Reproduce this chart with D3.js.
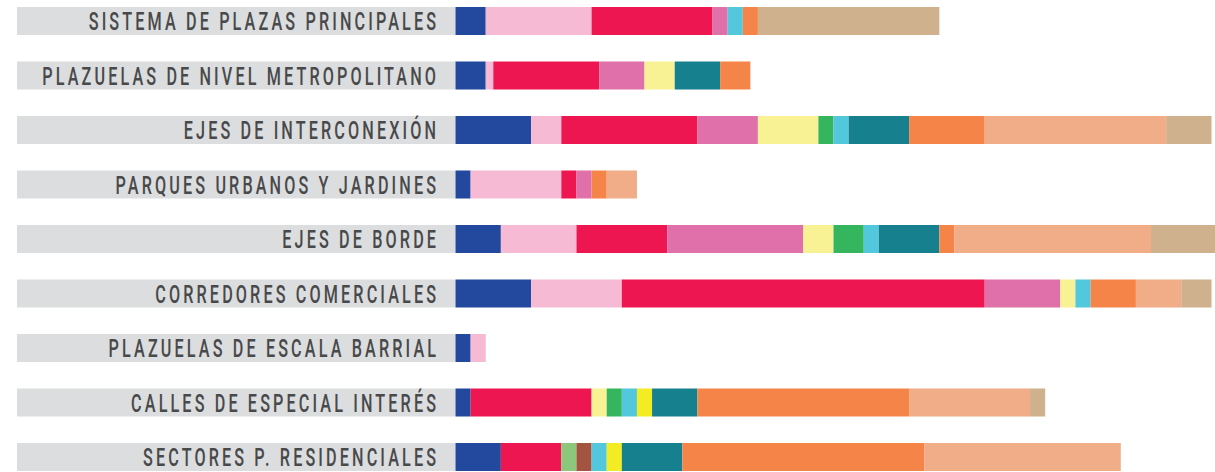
<!DOCTYPE html>
<html>
<head>
<meta charset="utf-8">
<script src="https://cdn.jsdelivr.net/npm/d3@7"></script>
<style>
  html, body { margin: 0; padding: 0; background: #ffffff; overflow: hidden; }
  svg { display: block; }
</style>
</head>
<body>
<div id="chart"></div>
<script>
const categories = [
  "SISTEMA DE PLAZAS PRINCIPALES",
  "PLAZUELAS DE NIVEL METROPOLITANO",
  "EJES DE INTERCONEXIÓN",
  "PARQUES URBANOS Y JARDINES",
  "EJES DE BORDE",
  "CORREDORES COMERCIALES",
  "PLAZUELAS DE ESCALA BARRIAL",
  "CALLES DE ESPECIAL INTERÉS",
  "SECTORES P. RESIDENCIALES"
];

const seriesNames = ["s01","s02","s03","s04","s05","s06","s07","s08","s09","s10","s11","s12","s13","s14"];

const s01 = [2, 2, 5, 1, 3, 5, 1, 1, 3];
const s02 = [7, 0.5, 2, 6, 5, 6, 1, 0, 0];
const s03 = [8, 7, 9, 1, 6, 24, 0, 8, 4];
const s04 = [1, 3, 4, 1, 9, 5, 0, 0, 0];
const s05 = [0, 2, 4, 0, 2, 1, 0, 1, 0];
const s06 = [0, 0, 1, 0, 2, 0, 0, 1, 0];
const s07 = [0, 0, 0, 0, 0, 0, 0, 0, 1];
const s08 = [0, 0, 0, 0, 0, 0, 0, 0, 1];
const s09 = [1, 0, 1, 0, 1, 1, 0, 1, 1];
const s10 = [0, 0, 0, 0, 0, 0, 0, 1, 1];
const s11 = [0, 3, 4, 0, 4, 0, 0, 3, 4];
const s12 = [1, 2, 5, 1, 1, 3, 0, 14, 16];
const s13 = [0, 0, 12, 2, 13, 3, 0, 8, 13];
const s14 = [12, 0, 3, 0, 4.4, 2, 0, 1, 0];

const seriesValues = [s01,s02,s03,s04,s05,s06,s07,s08,s09,s10,s11,s12,s13,s14];

const colors = [
  "#23499e", "#f7bad5", "#ee1650", "#e070aa", "#f8f294", "#35b55d", "#8dc77b",
  "#a25440", "#53c7dc", "#f3ec24", "#17808f", "#f58448", "#f1ac88", "#d0b18d"
];

const W = 1215, H = 472;
const labelBgStart = 17;

const table = categories.map((c, i) => {
  const row = { category: c };
  seriesNames.forEach((s, j) => { row[s] = seriesValues[j][i]; });
  return row;
});

const stack = d3.stack().keys(seriesNames)(table);

const x = d3.scaleLinear().domain([0, 50]).range([455.5, 455.5 + 756]);
const y = d3.scaleBand().domain(categories).range([7, 471]).paddingInner(26.5 / 54.5).paddingOuter(0);
const color = d3.scaleOrdinal().domain(seriesNames).range(colors);

const svg = d3.select("#chart").append("svg").attr("width", W).attr("height", H);

// gray label backgrounds
svg.append("g").selectAll("rect").data(categories).join("rect")
  .attr("x", labelBgStart)
  .attr("y", d => y(d))
  .attr("width", x(0) - labelBgStart)
  .attr("height", y.bandwidth())
  .attr("fill", "#dcddde");

// stacked bars
svg.append("g").selectAll("g").data(stack).join("g")
  .attr("fill", d => color(d.key))
  .selectAll("rect").data(d => d.filter(p => p[1] > p[0])).join("rect")
    .attr("x", d => x(d[0]))
    .attr("y", d => y(d.data.category))
    .attr("width", d => x(d[1]) - x(d[0]))
    .attr("height", y.bandwidth());

// labels (condensed look via horizontal scale)
const sx = 0.64, ls = 4.9;
const labelRight = 436;
svg.append("g").selectAll("text").data(categories).join("text")
  .attr("transform", d => `translate(${labelRight + ls * sx},${y(d) + 23}) scale(${sx},1)`)
  .attr("text-anchor", "end")
  .attr("font-family", "Roboto, 'Noto Sans', sans-serif")
  .attr("font-size", 25.3)
  .attr("font-weight", 500)
  .attr("letter-spacing", ls)
  .attr("fill", "#48494b")
  .text(d => d);
</script>
</body>
</html>
